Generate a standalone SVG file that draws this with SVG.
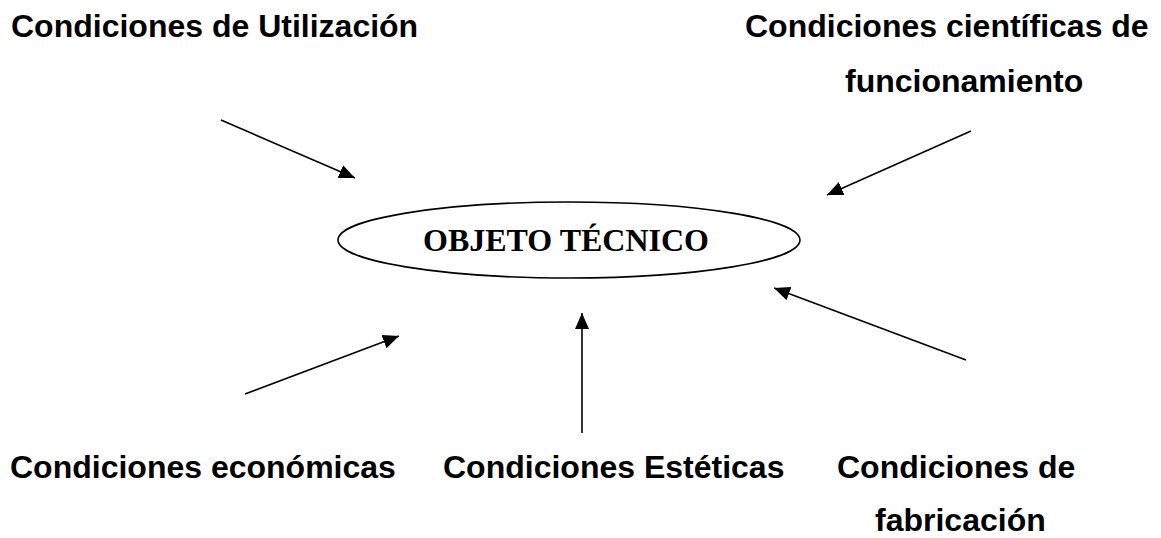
<svg xmlns="http://www.w3.org/2000/svg" width="1161" height="538" viewBox="0 0 1161 538">
<style>
.lbl{font-family:"Liberation Sans",Arial,sans-serif;font-weight:bold;font-size:32px;fill:#000}
.main{font-family:"Liberation Serif","Times New Roman",serif;font-weight:bold;font-size:32px;fill:#000}
.conn line{stroke:#000;stroke-width:1.6;fill:none;marker-end:url(#ah)}
</style>
<defs>
<marker id="ah" markerUnits="userSpaceOnUse" markerWidth="18" markerHeight="16" refX="16" refY="7" orient="auto">
<path d="M0,0 L16,7 L0,14 Z" fill="#000"/>
</marker>
</defs>
<rect width="1161" height="538" fill="#fff"/>
<g id="objeto">
<ellipse cx="569" cy="240" rx="231" ry="38" fill="none" stroke="#000" stroke-width="1.6"/>
<text class="main" x="566" y="251" text-anchor="middle">OBJETO TÉCNICO</text>
</g>
<g id="utilizacion"><text class="lbl" x="11" y="37">Condiciones de Utilización</text></g>
<g id="cientificas"><text class="lbl" x="745" y="37">Condiciones científicas de</text><text class="lbl" x="845" y="92">funcionamiento</text></g>
<g id="economicas"><text class="lbl" x="10" y="478">Condiciones económicas</text></g>
<g id="esteticas"><text class="lbl" x="443" y="478">Condiciones Estéticas</text></g>
<g id="fabricacion"><text class="lbl" x="837" y="478">Condiciones de</text><text class="lbl" x="875" y="531">fabricación</text></g>
<g id="connectors" class="conn">
<line x1="221" y1="120" x2="355" y2="178"/>
<line x1="971" y1="131" x2="827" y2="195"/>
<line x1="245" y1="394" x2="399" y2="336"/>
<line x1="582" y1="433" x2="582" y2="313"/>
<line x1="966" y1="360" x2="774" y2="288"/>
</g>
</svg>
